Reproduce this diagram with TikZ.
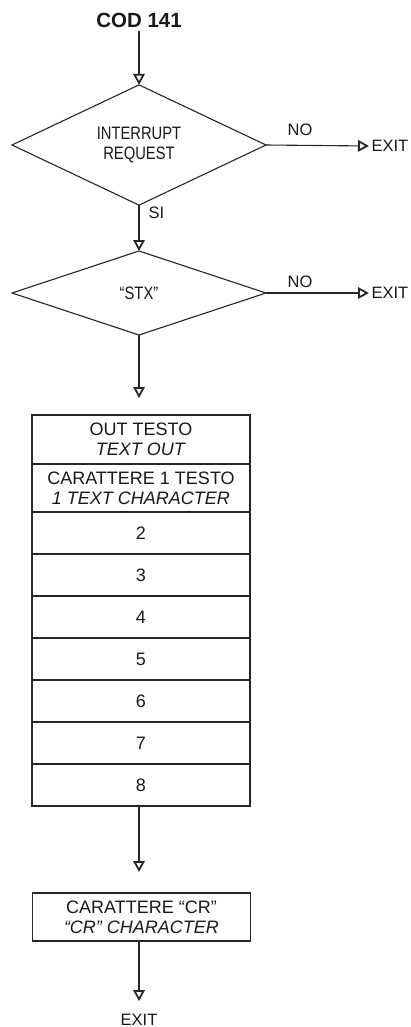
\documentclass[tikz,border=0pt]{standalone}
\usepackage{fontspec}
\setmainfont{Liberation Sans}
\newfontfamily\condfont[FakeStretch=0.82]{Liberation Sans}
\usetikzlibrary{arrows.meta,shapes.geometric}
\begin{document}
\begin{tikzpicture}[x=1pt,y=-1pt,
  line width=1.1pt, draw=black!85, text=black!90,
  arr/.style={draw=black!85,-{Triangle[open,length=11pt,width=11.5pt,line width=1.8pt]}},
  dec/.style={draw, diamond, minimum width=254pt, minimum height=84pt, inner sep=0pt, outer sep=0pt, align=center, font=\condfont\fontsize{18}{20}\selectfont},
  row/.style={draw, rectangle, minimum width=218pt, inner sep=0pt, outer sep=0pt, align=center, font=\fontsize{18}{20}\selectfont},
  lbl/.style={font=\fontsize{16.5}{19}\selectfont, inner sep=2pt},
]
\useasboundingbox (0,0) rectangle (410,1027);

\node[font=\bfseries\fontsize{20.5}{24}\selectfont, inner sep=3pt] (cod) at (139,20) {COD 141};

\node[dec] (d1) at (139,145) {INTERRUPT\\REQUEST};
\node[dec] (d2) at (139,293) {“STX”};

\node[lbl, anchor=west] (x1) at (369,146) {EXIT};
\node[lbl, anchor=west] (x2) at (369,293) {EXIT};
\node[lbl] (no1) at (300,129.5) {NO};
\node[lbl] (no2) at (300,281.5) {NO};
\node[lbl, anchor=west] (si) at (146,213) {SI};

\node[row, minimum height=49pt] (r0) at (141,439.5) {OUT TESTO\\\textit{TEXT OUT}};
\node[row, minimum height=48pt] (r1) at (141,488) {CARATTERE 1 TESTO\\\textit{1 TEXT CHARACTER}};
\node[row, minimum height=42pt] (r2) at (141,533) {2};
\node[row, minimum height=42pt] (r3) at (141,575) {3};
\node[row, minimum height=42pt] (r4) at (141,617) {4};
\node[row, minimum height=42pt] (r5) at (141,659) {5};
\node[row, minimum height=42pt] (r6) at (141,701) {6};
\node[row, minimum height=42pt] (r7) at (141,743) {7};
\node[row, minimum height=42pt] (r8) at (141,785) {8};

\node[row, minimum height=48pt] (cr) at (141.5,917) {CARATTERE “CR”\\\textit{“CR” CHARACTER}};

\node[lbl, anchor=base] (x3) at (139,1025) {EXIT};

\draw[arr] (cod.south) -- (d1.north);
\draw[arr] (d1.east) -- (x1.west);
\draw[arr] (d1.south) -- (d2.north);
\draw[arr] (d2.east) -- (x2.west);
\draw[arr, shorten >=17pt] (d2.south) -- (d2.south |- r0.north);
\draw[arr, shorten >=21pt] (d2.south |- r8.south) -- (d2.south |- cr.north);
\draw[arr, shorten >=10pt] (d2.south |- cr.south) -- (x3.north);
\end{tikzpicture}
\end{document}
